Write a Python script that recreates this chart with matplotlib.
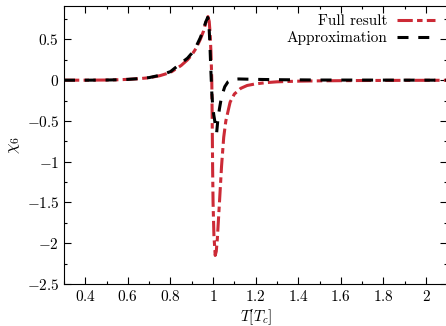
import matplotlib
matplotlib.use('Agg')
import matplotlib.pyplot as pyplot
from matplotlib.ticker import MultipleLocator, FuncFormatter

# data
t_full = [0.30, 0.40, 0.50, 0.55, 0.60, 0.65, 0.70, 0.75, 0.80, 0.85, 0.88,
          0.90, 0.92, 0.94, 0.955, 0.965, 0.976, 0.982, 0.986, 0.990, 0.994,
          0.996, 0.998, 1.000, 1.004, 1.010, 1.015, 1.020, 1.030, 1.040,
          1.050, 1.060, 1.080, 1.100, 1.130, 1.160, 1.200, 1.250, 1.300,
          1.400, 1.500, 1.700, 1.900, 2.100]
chi_full = [0.0, 0.0, 0.002, 0.005, 0.01, 0.018, 0.03, 0.055, 0.095, 0.18, 0.25,
            0.31, 0.39, 0.50, 0.60, 0.70, 0.78, 0.72, 0.58, 0.35, 0.0,
            -0.5, -1.1, -1.5, -1.9, -2.15, -2.1, -1.95, -1.5, -1.05,
            -0.7, -0.5, -0.27, -0.17, -0.10, -0.065, -0.045, -0.03, -0.02,
            -0.012, -0.008, -0.004, -0.002, -0.001]

t_approx = [0.30, 0.40, 0.50, 0.55, 0.60, 0.65, 0.70, 0.75, 0.80, 0.85, 0.88,
            0.90, 0.92, 0.94, 0.955, 0.965, 0.975, 0.980, 0.985, 0.990, 0.994,
            0.998, 1.003, 1.008, 1.012, 1.017, 1.022, 1.030, 1.040, 1.055,
            1.070, 1.090, 1.120, 1.200, 1.300, 1.500, 2.100]
chi_approx = [0.0, 0.0, 0.002, 0.005, 0.01, 0.019, 0.032, 0.06, 0.105, 0.21, 0.27,
              0.33, 0.41, 0.52, 0.62, 0.71, 0.77, 0.72, 0.45, 0.10, -0.15,
              -0.30, -0.42, -0.50, -0.62, -0.64, -0.50, -0.35, -0.20, -0.08,
              -0.02, 0.01, 0.015, 0.01, 0.006, 0.002, 0.0]

x_ticks = [0.4, 0.6, 0.8, 1.0, 1.2, 1.4, 1.6, 1.8, 2.0]
y_ticks = [-2.5, -2.0, -1.5, -1.0, -0.5, 0.0, 0.5]

def main():
    pyplot.rcParams['font.family'] = 'serif'
    pyplot.rcParams['font.serif'] = ['cmr10']
    pyplot.rcParams['mathtext.fontset'] = 'cm'
    pyplot.rcParams['font.size'] = 11
    pyplot.rcParams['axes.unicode_minus'] = True

    fig = pyplot.figure(figsize=(4.46, 3.26), dpi=100)
    ax = fig.add_axes([64/446, 42/326, 383.3/446, 278/326])

    red = '#cc2a36'
    ax.plot(t_full, chi_full, color=red, lw=2.2, dashes=(5, 1.4, 1.8, 1.4),
            label='Full result', zorder=2)
    ax.plot(t_approx, chi_approx, color='black', lw=2.2, dashes=(3.6, 3.2),
            label='Approximation', zorder=3)

    ax.set_xlim(0.3, 2.1)
    ax.set_ylim(-2.5, 0.91)
    ax.set_xticks(x_ticks)
    ax.set_yticks(y_ticks)
    ax.xaxis.set_minor_locator(MultipleLocator(0.1))
    ax.yaxis.set_minor_locator(MultipleLocator(0.25))
    fmt = FuncFormatter(lambda v, p: r'$%g$' % round(v, 3))
    ax.xaxis.set_major_formatter(fmt)
    ax.yaxis.set_major_formatter(fmt)
    ax.tick_params(which='both', direction='in', top=True, right=True)
    ax.tick_params(which='major', length=5, width=0.8)
    ax.tick_params(which='minor', length=2.5, width=0.8)

    ax.set_xlabel(r'$T[T_c]$')
    ax.set_ylabel(r'$\chi_6$', fontsize=12)
    ax.xaxis.set_label_coords(0.5, -0.083)
    ax.yaxis.set_label_coords(-0.11, 0.5)

    ax.legend(loc='upper right', bbox_to_anchor=(0.99, 1.0), frameon=False,
              markerfirst=False, handlelength=2.5, handletextpad=0.6,
              labelspacing=0.2, borderaxespad=0.15)

    fig.savefig('out.png', dpi=100)

if __name__ == "__main__":
    main()
